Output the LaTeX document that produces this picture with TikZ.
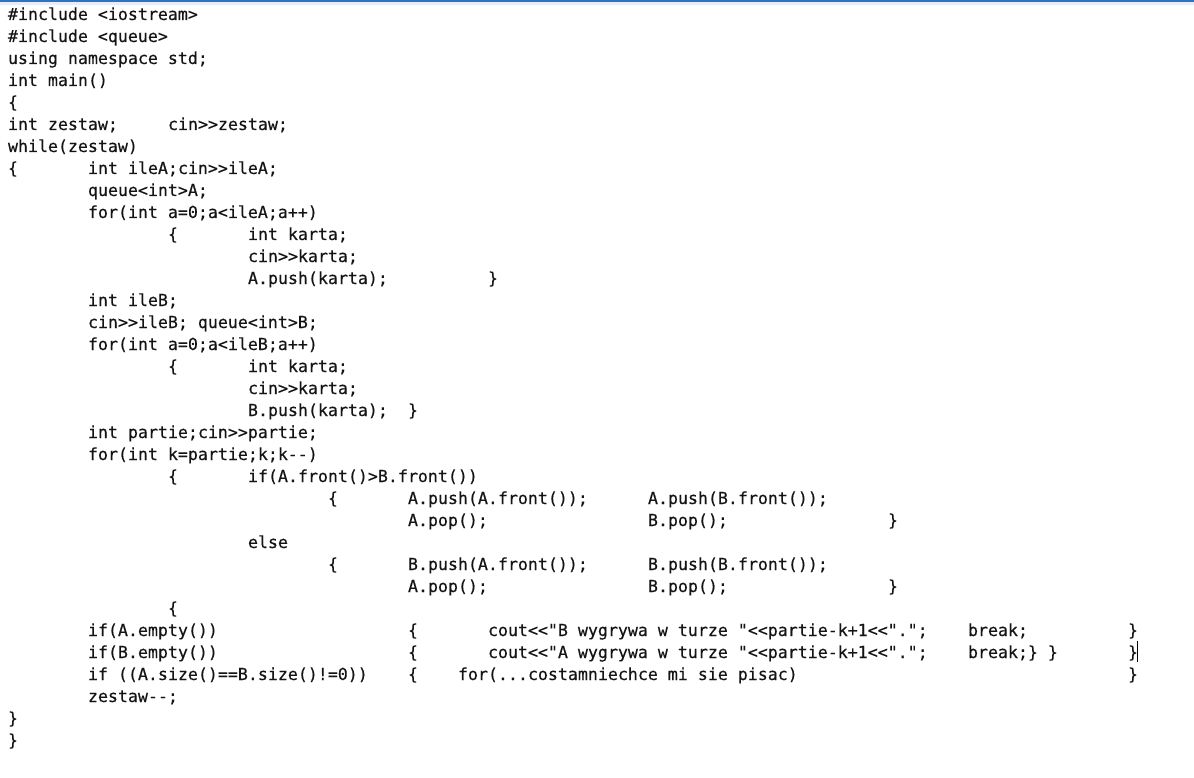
\documentclass[tikz,border=0pt]{standalone}
\usepackage{fontspec}
\newfontfamily\codefont{DejaVu Sans Mono}[FakeBold=0.3]
\begin{document}
\begin{tikzpicture}[x=1pt,y=-1pt,
  code/.style={anchor=base west, inner sep=0pt, outer sep=0pt, text=black!92,
    font=\codefont\fontsize{16.6}{20}\selectfont}]
\useasboundingbox (0,0) rectangle (1194,778);
\fill[white] (0,0) rectangle (1194,778);
\fill[blue!8!white] (0,2) rectangle (1194,5);
\fill[fill={rgb,255:red,46;green,117;blue,182}] (0,0) rectangle (1194,2);
\begin{scope}[yshift=-1pt]
% line 1-7
\node[code] (l1) at (8,19) {\#include <iostream>};
\node[code] (l2) at (8,41) {\#include <queue>};
\node[code] (l3) at (8,63) {using namespace std;};
\node[code] (l4) at (8,85) {int main()};
\node[code] (l5) at (8,107) {\{};
\node[code] (l6a) at (8,129) {int zestaw;};
\node[code] (l6b) at (168,129) {cin>>zestaw;};
\node[code] (l7) at (8,151) {while(zestaw)};
% line 8-13
\node[code] (l8a) at (8,173) {\{};
\node[code] (l8b) at (88,173) {int ileA;cin>>ileA;};
\node[code] (l9) at (88,195) {queue<int>A;};
\node[code] (l10) at (88,217) {for(int a=0;a<ileA;a++)};
\node[code] (l11a) at (168,239) {\{};
\node[code] (l11b) at (248,239) {int karta;};
\node[code] (l12) at (248,261) {cin>>karta;};
\node[code] (l13a) at (248,283) {A.push(karta);};
\node[code] (l13b) at (488,283) {\}};
% line 14-19
\node[code] (l14) at (88,305) {int ileB;};
\node[code] (l15) at (88,327) {cin>>ileB; queue<int>B;};
\node[code] (l16) at (88,349) {for(int a=0;a<ileB;a++)};
\node[code] (l17a) at (168,371) {\{};
\node[code] (l17b) at (248,371) {int karta;};
\node[code] (l18) at (248,393) {cin>>karta;};
\node[code] (l19a) at (248,415) {B.push(karta);};
\node[code] (l19b) at (408,415) {\}};
% line 20-27
\node[code] (l20) at (88,437) {int partie;cin>>partie;};
\node[code] (l21) at (88,459) {for(int k=partie;k;k--)};
\node[code] (l22a) at (168,481) {\{};
\node[code] (l22b) at (248,481) {if(A.front()>B.front())};
\node[code] (l23a) at (328,503) {\{};
\node[code] (l23b) at (408,503) {A.push(A.front());};
\node[code] (l23c) at (648,503) {A.push(B.front());};
\node[code] (l24a) at (408,525) {A.pop();};
\node[code] (l24b) at (648,525) {B.pop();};
\node[code] (l24c) at (888,525) {\}};
\node[code] (l25) at (248,547) {else};
\node[code] (l26a) at (328,569) {\{};
\node[code] (l26b) at (408,569) {B.push(A.front());};
\node[code] (l26c) at (648,569) {B.push(B.front());};
\node[code] (l27a) at (408,591) {A.pop();};
\node[code] (l27b) at (648,591) {B.pop();};
\node[code] (l27c) at (888,591) {\}};
% line 28-34
\node[code] (l28) at (168,613) {\{};
\node[code] (l29a) at (88,635) {if(A.empty())};
\node[code] (l29b) at (408,635) {\{};
\node[code] (l29c) at (488,635) {cout<<"B wygrywa w turze "<<partie-k+1<<".";};
\node[code] (l29d) at (968,635) {break;};
\node[code] (l29e) at (1128,635) {\}};
\node[code] (l30a) at (88,657) {if(B.empty())};
\node[code] (l30b) at (408,657) {\{};
\node[code] (l30c) at (488,657) {cout<<"A wygrywa w turze "<<partie-k+1<<".";};
\node[code] (l30d) at (968,657) {break;\} \}};
\node[code] (l30e) at (1128,657) {\}};
\node[code] (l31a) at (88,679) {if ((A.size()==B.size()!=0))};
\node[code] (l31b) at (408,679) {\{};
\node[code] (l31c) at (458,679) {for(...costamniechce mi sie pisac)};
\node[code] (l31d) at (1128,679) {\}};
\node[code] (l32) at (88,701) {zestaw--;};
\node[code] (l33) at (8,723) {\}};
\node[code] (l34) at (8,745) {\}};
\end{scope}
% text cursor
\coordinate (cur1) at (1137,641);
\coordinate (cur2) at (1137,662);
\draw[line width=1pt, black] (cur1) -- (cur2);
\end{tikzpicture}
\end{document}
